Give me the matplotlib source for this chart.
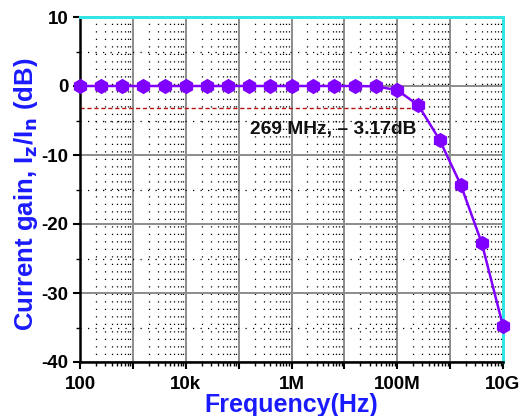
import numpy as np
import matplotlib.pyplot as plt
from matplotlib.ticker import LogLocator, FixedLocator, NullFormatter, FuncFormatter

# frequency points: 100 Hz .. 10 GHz, 0.4 decade steps
freq_exp = [2.0, 2.4, 2.8, 3.2, 3.6, 4.0, 4.4, 4.8, 5.2, 5.6, 6.0,
            6.4, 6.8, 7.2, 7.6, 8.0, 8.4, 8.8, 9.2, 9.6, 10.0]
gain_db = [0.0, 0.0, 0.0, 0.0, 0.0, 0.0, 0.0, 0.0, 0.0, 0.0, 0.0,
           0.0, 0.0, 0.0, -0.05, -0.6, -2.8, -7.8, -14.3, -22.8, -34.8]
cutoff_hz = 269e6
cutoff_db = -3.17
tick_labels = {100: "100", 1e4: "10k", 1e6: "1M", 1e8: "100M", 1e10: "10G"}

freq = [10 ** e for e in freq_exp]

plt.rcParams['font.family'] = ['Liberation Sans', 'DejaVu Sans']
plt.rcParams['font.weight'] = 'bold'
plt.rcParams['axes.unicode_minus'] = False

fig = plt.figure(figsize=(5.23, 4.16), dpi=100)
ax = fig.add_axes([80 / 523, 1 - 362 / 416, 423 / 523, 345 / 416])

ax.set_xscale('log')
ax.set_xlim(100, 1e10)
ax.set_ylim(-40, 10)

# grids
ax.xaxis.set_major_locator(LogLocator(base=10, numticks=20))
ax.xaxis.set_minor_locator(LogLocator(base=10, subs=np.arange(2, 10), numticks=20))
ax.yaxis.set_major_locator(FixedLocator([-40, -30, -20, -10, 0, 10]))
ax.yaxis.set_minor_locator(FixedLocator([-35, -25, -15, -5, 5]))
ax.grid(which='major', color='#8c8c8c', linestyle='-', linewidth=1.4, zorder=0)
ax.grid(which='minor', color='black', linestyle=(0, (1, 5)), linewidth=0.9, zorder=0)

ax.xaxis.set_major_formatter(FuncFormatter(lambda v, p: tick_labels.get(round(v), "")))
ax.xaxis.set_minor_formatter(NullFormatter())

ax.tick_params(which='major', direction='out', length=5, width=1.5, labelsize=13.5)
ax.tick_params(axis='x', which='major', pad=5)
ax.tick_params(which='minor', direction='out', length=3, width=1.0)

for side in ['left', 'bottom']:
    ax.spines[side].set_linewidth(1.8)
    ax.spines[side].set_color('black')
for side in ['top', 'right']:
    ax.spines[side].set_linewidth(2.2)
    ax.spines[side].set_color('#33e6e6')

# -3 dB marker line
ax.plot([100, 2.6e8], [cutoff_db, cutoff_db], color='#b81010', linestyle=(0, (3, 2)),
        linewidth=1.0, zorder=2)
ax.text(1.65e5, -6.3, "%d MHz, \u2013 %.2fdB" % (cutoff_hz / 1e6, -cutoff_db),
        fontsize=13.8, fontweight='bold', color='#111111', va='center', ha='left', zorder=4)

ax.plot(freq, gain_db, color='#8000ff', linewidth=1.8, marker='h', markersize=11,
        markeredgewidth=0, zorder=3, clip_on=False)

ax.set_xlabel("Frequency(Hz)", fontsize=18, fontweight='bold', color='#1a1aff', labelpad=0)
ax.set_ylabel(r"Current gain, I$_\mathbf{z}$/I$_\mathbf{n}$ (dB)", fontsize=18.5,
              fontweight='bold', color='#1a1aff')
ax.yaxis.set_label_coords(-0.094, 0.485)

fig.savefig("out.png", dpi=100)
